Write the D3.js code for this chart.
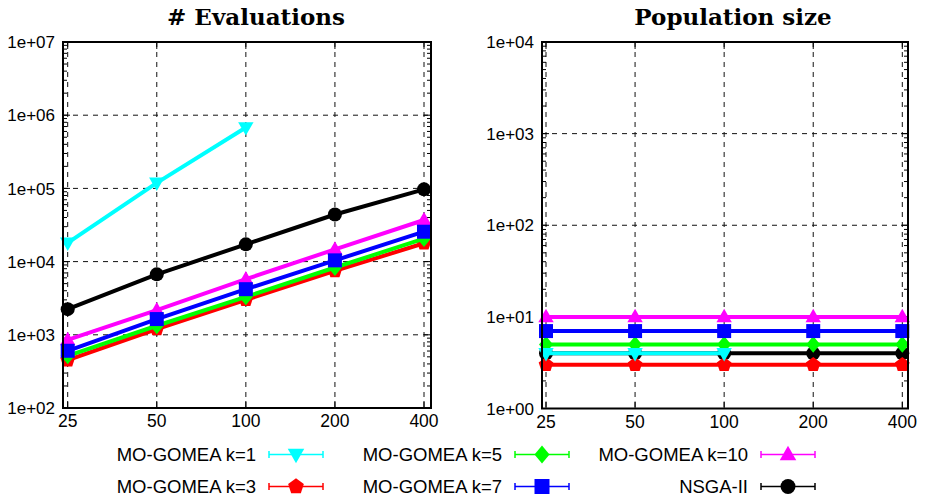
<!DOCTYPE html>
<html>
<head>
<meta charset="utf-8">
<script src="https://cdn.jsdelivr.net/npm/d3@7"></script>
<style>
  html, body { margin: 0; padding: 0; background: #fff; }
  svg { display: block; }
  text { font-family: "Liberation Sans", Arial, Helvetica, sans-serif; }
</style>
</head>
<body>
<svg id="chart" width="925" height="502"></svg>
<script>
// Problem sizes on the x axis
const problemSizes = [25, 50, 100, 200, 400];

// Number of evaluations needed
const evalK1   = [18000, 119000, 680000];
const evalK3   = [450, 1200, 3000, 7450, 17800];
const evalK5   = [517, 1330, 3300, 8300, 20600];
const evalK7   = [605, 1640, 4200, 10400, 25600];
const evalK10  = [850, 2170, 5750, 14700, 37000];
const evalNsga = [2240, 6700, 17200, 44000, 97000];

// Population sizes
const popK1   = [4, 4, 4];
const popK3   = [3, 3, 3, 3, 3];
const popK5   = [5, 5, 5, 5, 5];
const popK7   = [7, 7, 7, 7, 7];
const popK10  = [10, 10, 10, 10, 10];
const popNsga = [4, 4, 4, 4, 4];

// Tick labels
const evalTickLabels = ["1e+02", "1e+03", "1e+04", "1e+05", "1e+06", "1e+07"];
const popTickLabels  = ["1e+00", "1e+01", "1e+02", "1e+03", "1e+04"];
const panelTitles = ["# Evaluations", "Population size"];

const seriesNames = ["MO-GOMEA k=1", "MO-GOMEA k=3", "MO-GOMEA k=5", "MO-GOMEA k=7", "MO-GOMEA k=10", "NSGA-II"];
const seriesColors = ["#00ffff", "#ff0000", "#00ff00", "#0000ff", "#ff00ff", "#000000"];
const seriesMarkers = ["triDown", "pentagon", "diamond", "square", "triUp", "circle"];

const evalSeries = [evalK1, evalK3, evalK5, evalK7, evalK10, evalNsga];
const popSeries  = [popK1, popK3, popK5, popK7, popK10, popNsga];

// order in which the curves are stacked (later ones on top)
const drawOrder = [5, 4, 1, 2, 3, 0];

const svg = d3.select("#chart");

function markerPath(type, size) {
  const s = size;
  switch (type) {
    case "circle": return d3.symbol(d3.symbolCircle, Math.PI * (s / 2) * (s / 2))();
    case "square": return `M${-s/2},${-s/2}H${s/2}V${s/2}H${-s/2}Z`;
    case "diamond": return `M0,${-s*0.6}L${s*0.5},0L0,${s*0.6}L${-s*0.5},0Z`;
    case "triUp": return `M0,${-s*0.58}L${s*0.55},${s*0.38}L${-s*0.55},${s*0.38}Z`;
    case "triDown": return `M0,${s*0.58}L${s*0.55},${-s*0.38}L${-s*0.55},${-s*0.38}Z`;
    case "pentagon": {
      const pts = d3.range(5).map(i => {
        const a = -Math.PI / 2 + i * 2 * Math.PI / 5;
        return [Math.cos(a) * s * 0.55, Math.sin(a) * s * 0.55];
      });
      return "M" + pts.map(p => p.join(",")).join("L") + "Z";
    }
  }
}

function drawPanel(opts) {
  const { left, right, top, bottom, xFirst, xLast, yDomain, tickLabels, title, titleX, data } = opts;
  const g = svg.append("g");
  const x = d3.scaleLog().base(2).domain([25, 400]).range([xFirst, xLast]);
  const y = d3.scaleLog().domain(yDomain).range([bottom, top]);
  const decades = d3.range(Math.log10(yDomain[0]), Math.log10(yDomain[1]) + 1).map(e => Math.pow(10, e));

  // grid
  const grid = g.append("g").attr("stroke", "#111").attr("stroke-width", 1).attr("stroke-dasharray", "5,5");
  grid.selectAll("line.gx").data(problemSizes).join("line")
    .attr("x1", d => x(d)).attr("x2", d => x(d)).attr("y1", top).attr("y2", bottom);
  grid.selectAll("line.gy").data(decades.slice(1, -1)).join("line")
    .attr("x1", left).attr("x2", right).attr("y1", d => y(d)).attr("y2", d => y(d));

  // minor ticks on y
  const minors = [];
  decades.slice(0, -1).forEach(d => { for (let m = 2; m <= 9; m++) minors.push(d * m); });
  const tk = g.append("g").attr("stroke", "#000").attr("stroke-width", 1);
  tk.selectAll("line.mnl").data(minors).join("line")
    .attr("x1", left).attr("x2", left + 4).attr("y1", d => y(d)).attr("y2", d => y(d));
  tk.selectAll("line.mnr").data(minors).join("line")
    .attr("x1", right).attr("x2", right - 4).attr("y1", d => y(d)).attr("y2", d => y(d));
  tk.selectAll("line.mjl").data(decades).join("line")
    .attr("x1", left).attr("x2", left + 7).attr("y1", d => y(d)).attr("y2", d => y(d));
  tk.selectAll("line.mjr").data(decades).join("line")
    .attr("x1", right).attr("x2", right - 7).attr("y1", d => y(d)).attr("y2", d => y(d));
  tk.selectAll("line.mjb").data(problemSizes).join("line")
    .attr("x1", d => x(d)).attr("x2", d => x(d)).attr("y1", bottom).attr("y2", bottom - 7);
  tk.selectAll("line.mjt").data(problemSizes).join("line")
    .attr("x1", d => x(d)).attr("x2", d => x(d)).attr("y1", top).attr("y2", top + 7);

  // tick labels
  g.append("g").selectAll("text").data(decades).join("text")
    .attr("x", left - 8).attr("y", d => y(d)).attr("dy", "0.36em")
    .attr("text-anchor", "end").attr("font-size", 17).attr("fill", "#000")
    .text((d, i) => tickLabels[i]);
  g.append("g").selectAll("text").data(problemSizes).join("text")
    .attr("x", d => x(d)).attr("y", bottom + 19)
    .attr("text-anchor", "middle").attr("font-size", 17.5).attr("fill", "#000")
    .text(d => d);

  // curves
  const line = d3.line().x(d => x(d[0])).y(d => y(d[1]));
  drawOrder.forEach(si => {
    const pts = data[si].map((v, i) => [problemSizes[i], v]);
    const sg = g.append("g");
    sg.append("path").attr("d", line(pts)).attr("fill", "none")
      .attr("stroke", seriesColors[si]).attr("stroke-width", 4).attr("stroke-linejoin", "round");
    sg.selectAll("path.m").data(pts).join("path")
      .attr("transform", d => `translate(${x(d[0])},${y(d[1])})`)
      .attr("d", markerPath(seriesMarkers[si], 14))
      .attr("fill", seriesColors[si]);
  });

  // frame
  g.append("rect").attr("x", left).attr("y", top).attr("width", right - left).attr("height", bottom - top)
    .attr("fill", "none").attr("stroke", "#000").attr("stroke-width", 2);

  // title
  g.append("text").attr("x", titleX).attr("y", 25).attr("text-anchor", "middle")
    .attr("font-weight", "bold").attr("font-size", 23)
    .style("font-family", "'DejaVu Serif', serif")
    .text(title);
}

drawPanel({ left: 63, right: 431, top: 42, bottom: 408, xFirst: 67.7, xLast: 424,
  yDomain: [1e2, 1e7], tickLabels: evalTickLabels, title: panelTitles[0], titleX: 256, data: evalSeries });
drawPanel({ left: 542, right: 908, top: 42, bottom: 408.5, xFirst: 546, xLast: 902.3,
  yDomain: [1, 1e4], tickLabels: popTickLabels, title: panelTitles[1], titleX: 733, data: popSeries });

// legend: two rows, three columns
const legendCols = [256, 502, 748];
const legendRows = [454.5, 486.5];
const lg = svg.append("g");
seriesNames.forEach((name, i) => {
  const col = Math.floor(i / 2), row = i % 2;
  const tx = legendCols[col], cy = legendRows[row];
  const item = lg.append("g");
  item.append("text").attr("x", tx).attr("y", cy).attr("dy", "0.36em")
    .attr("text-anchor", "end").attr("font-size", 18.5).attr("fill", "#000").text(name);
  const x0 = tx + 13, x1 = tx + 67;
  const st = item.append("g").attr("stroke", seriesColors[i]).attr("stroke-width", 1.5);
  st.append("line").attr("x1", x0).attr("x2", x1).attr("y1", cy).attr("y2", cy);
  st.append("line").attr("x1", x0).attr("x2", x0).attr("y1", cy - 3.5).attr("y2", cy + 3.5);
  st.append("line").attr("x1", x1).attr("x2", x1).attr("y1", cy - 3.5).attr("y2", cy + 3.5);
  item.append("path").attr("transform", `translate(${tx + 40},${cy})`)
    .attr("d", markerPath(seriesMarkers[i], 15)).attr("fill", seriesColors[i]);
});
</script>
</body>
</html>
